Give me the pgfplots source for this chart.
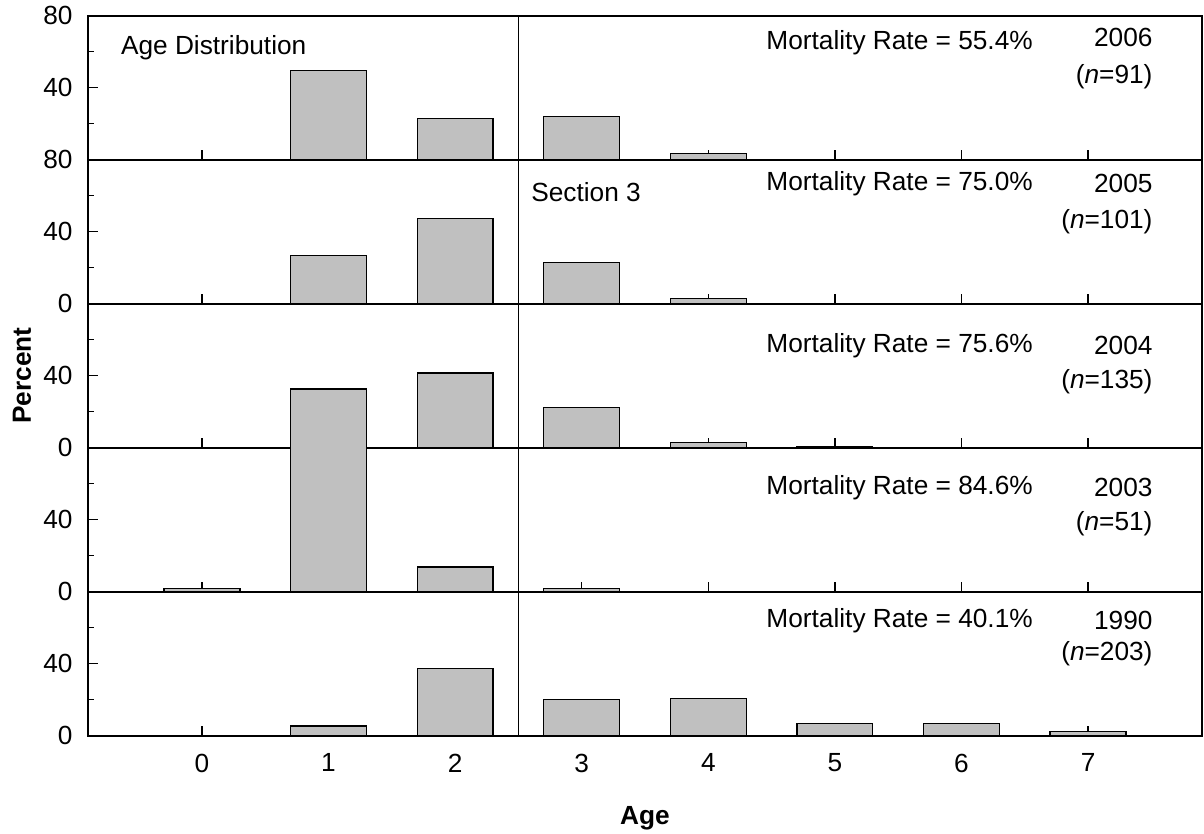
\documentclass[border=0pt]{standalone}
\usepackage{fontspec}
\setmainfont{Liberation Sans}
\usepackage{pgfplots}
\pgfplotsset{compat=1.18}
\definecolor{barfill}{RGB}{192,192,192}
\pgfplotsset{
 panel/.style={
  width=445.6pt, height=57.6pt, scale only axis,
  xmin=-0.9, xmax=7.9, ymin=0, ymax=80,
  xtick={0,...,7}, xticklabels={},
  ytick={0,40,80}, minor ytick={20,60},
  tick align=inside, xtick pos=left, ytick pos=left,
  major tick length=4pt, minor tick length=2.4pt,
  tick style={black, line width=0.5pt},
  minor tick style={black, line width=0.5pt},
  axis line style={line width=0.8pt},
  /pgf/number format/assume math mode=true,
  yticklabel shift=2.5pt,
  xticklabel shift=3.5pt,
  anchor=south west,
 },
 mybar/.style={ybar, bar width=0.6, bar shift=0pt, fill=barfill, draw=black, line width=0.5pt},
}
\newcommand{\sepline}{\draw[line width=0.6pt] (axis cs:2.5,0) -- (axis cs:2.5,80);}
\begin{document}
\fontsize{10.5}{12.6}\selectfont
\begin{tikzpicture}
\useasboundingbox (-35.2pt,-39.3pt) rectangle (446.4pt,294.3pt);
% 2006
\begin{axis}[panel, at={(0pt,230.4pt)}, yticklabels={,40,80}]
\addplot[mybar] coordinates {(1,49.5) (2,23.1) (3,24.2) (4,3.3)};
\sepline
\node[anchor=west, inner sep=0pt] at (rel axis cs:0.0292,0.778) {Age Distribution};
\node[anchor=west, inner sep=0pt] at (rel axis cs:0.6086,0.8125) {Mortality Rate = 55.4\%};
\node[anchor=east, inner sep=0pt] at (rel axis cs:0.956,0.847) {2006};
\node[anchor=east, inner sep=0pt] at (rel axis cs:0.956,0.576) {(\textit{n}=91)};
\end{axis}
% 2005
\begin{axis}[panel, at={(0pt,172.8pt)}, yticklabels={0,40,80}]
\addplot[mybar] coordinates {(1,26.7) (2,47.5) (3,22.8) (4,3.0)};
\sepline
\node[anchor=west, inner sep=0pt] at (rel axis cs:0.3975,0.778) {Section 3};
\node[anchor=west, inner sep=0pt] at (rel axis cs:0.6086,0.833) {Mortality Rate = 75.0\%};
\node[anchor=east, inner sep=0pt] at (rel axis cs:0.956,0.833) {2005};
\node[anchor=east, inner sep=0pt] at (rel axis cs:0.956,0.569) {(\textit{n}=101)};
\end{axis}
% 2004
\begin{axis}[panel, at={(0pt,115.2pt)}, yticklabels={0,40,},
  ylabel={\bfseries Percent},
  every axis y label/.style={at={(rel axis cs:0,0.5)}, xshift=-26.4pt, rotate=90, anchor=center}]
\addplot[mybar] coordinates {(1,32.6) (2,41.5) (3,22.2) (4,3.0) (5,0.7)};
\sepline
\node[anchor=west, inner sep=0pt] at (rel axis cs:0.6086,0.708) {Mortality Rate = 75.6\%};
\node[anchor=east, inner sep=0pt] at (rel axis cs:0.956,0.708) {2004};
\node[anchor=east, inner sep=0pt] at (rel axis cs:0.956,0.458) {(\textit{n}=135)};
\end{axis}
% 2003
\begin{axis}[panel, at={(0pt,57.6pt)}, yticklabels={0,40,}]
\addplot[mybar] coordinates {(0,2.0) (1,82.4) (2,13.7) (3,2.0)};
\sepline
\node[anchor=west, inner sep=0pt] at (rel axis cs:0.6086,0.722) {Mortality Rate = 84.6\%};
\node[anchor=east, inner sep=0pt] at (rel axis cs:0.956,0.722) {2003};
\node[anchor=east, inner sep=0pt] at (rel axis cs:0.956,0.472) {(\textit{n}=51)};
\end{axis}
% 1990
\begin{axis}[panel, at={(0pt,0pt)}, yticklabels={0,40,},
  xticklabels={0,1,2,3,4,5,6,7},
  xlabel={\bfseries Age},
  every axis x label/.style={at={(rel axis cs:0.5,0)}, yshift=-32.9pt, anchor=center}]
\addplot[mybar] coordinates {(1,5.4) (2,37.4) (3,20.2) (4,20.7) (5,6.9) (6,6.9) (7,2.5)};
\sepline
\node[anchor=west, inner sep=0pt] at (rel axis cs:0.6086,0.8) {Mortality Rate = 40.1\%};
\node[anchor=east, inner sep=0pt] at (rel axis cs:0.956,0.8) {1990};
\node[anchor=east, inner sep=0pt] at (rel axis cs:0.956,0.569) {(\textit{n}=203)};
\end{axis}
\end{tikzpicture}
\end{document}
